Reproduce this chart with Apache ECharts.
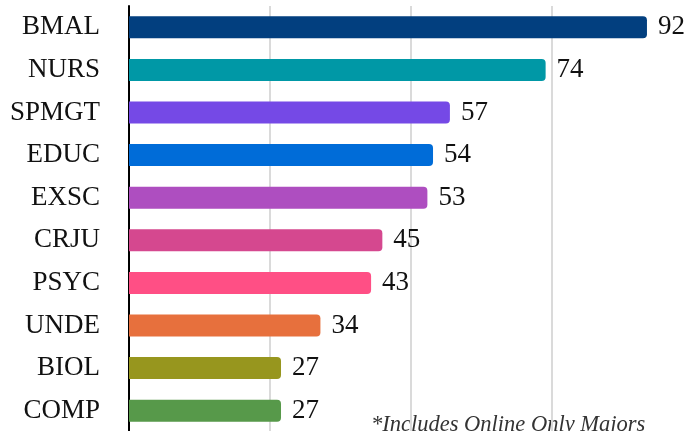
<!DOCTYPE html>
<html>
<head>
<meta charset="utf-8">
<script src="https://cdn.jsdelivr.net/npm/echarts@6/dist/echarts.min.js"></script>
<style>
  html, body { margin: 0; padding: 0; background: #fff; }
  #chart { width: 689px; height: 431px; }
</style>
</head>
<body>
<div id="chart"></div>
<script>
// majors, top to bottom
var majors = ['BMAL', 'NURS', 'SPMGT', 'EDUC', 'EXSC', 'CRJU', 'PSYC', 'UNDE', 'BIOL', 'COMP']
var counts = [92, 74, 57, 54, 53, 45, 43, 34, 27, 27]
var barColors = ['#023f7f', '#0098a6', '#7549e6', '#006cd8', '#ae4ec0', '#d5488f', '#ff4f85', '#e7703d', '#97961e', '#57994a']
var footnote = '*Includes Online Only Majors'

var chart = echarts.init(document.getElementById('chart'))
chart.setOption({
  animation: false,
  grid: {
    left: 129,
    width: 563,
    top: 6,
    height: 426,
    outerBoundsMode: 'none'
  },
  xAxis: {
    type: 'value',
    min: 0,
    max: 100,
    interval: 25,
    axisLabel: { show: false },
    axisLine: { show: false },
    axisTick: { show: false },
    splitLine: {
      show: true,
      lineStyle: { color: '#dadada', width: 2 }
    }
  },
  yAxis: {
    type: 'category',
    inverse: true,
    data: majors,
    axisTick: { show: false },
    axisLine: {
      show: true,
      lineStyle: { color: '#000', width: 2 }
    },
    axisLabel: {
      margin: 29,
      fontFamily: 'Liberation Serif',
      fontSize: 27,
      color: '#111'
    }
  },
  series: [{
    type: 'bar',
    barWidth: 22,
    data: counts.map(function(v, i) {
      return { value: v, itemStyle: { color: barColors[i] } }
    }),
    itemStyle: { borderRadius: [0, 4, 4, 0] },
    label: {
      show: true,
      position: 'right',
      distance: 11,
      fontFamily: 'Liberation Serif',
      fontSize: 27,
      color: '#111'
    }
  }],
  graphic: [{
    type: 'text',
    left: 371,
    top: 414,
    style: {
      text: footnote,
      fontFamily: 'Liberation Serif',
      fontStyle: 'italic',
      fontSize: 22.5,
      fill: '#333'
    }
  }]
})
</script>
</body>
</html>
